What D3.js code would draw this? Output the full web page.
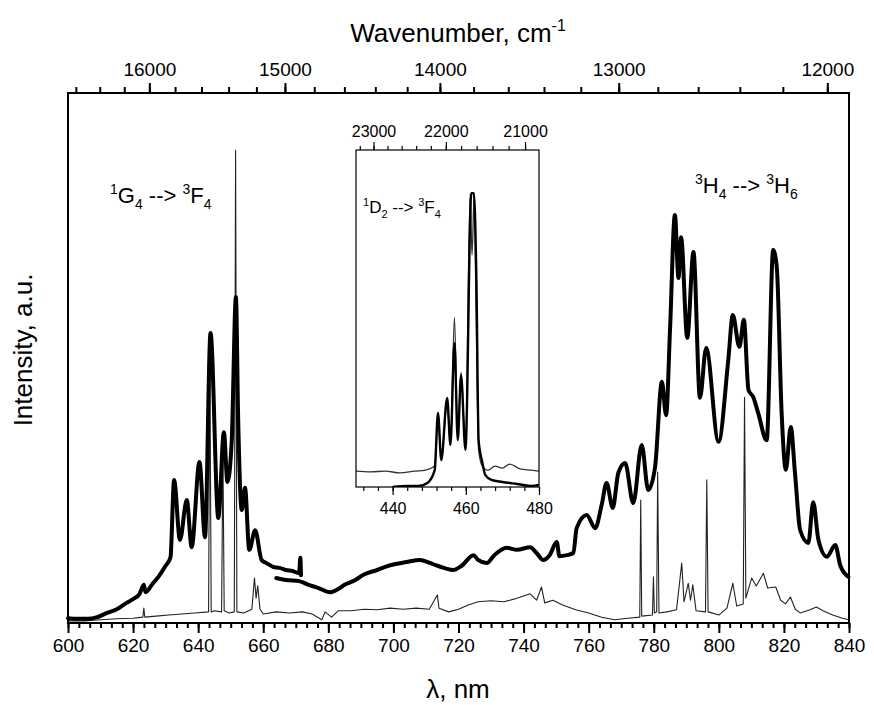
<!DOCTYPE html>
<html>
<head>
<meta charset="utf-8">
<script src="https://cdn.jsdelivr.net/npm/d3@7"></script>
<style>
  body { margin: 0; background: #fff; }
  svg text { font-family: "Liberation Sans", Arial, sans-serif; fill: #000; }
</style>
</head>
<body>
<svg id="chart" width="874" height="705"></svg>
<script>
// ---- axis ticks ----
const lambdaTicks = [600, 620, 640, 660, 680, 700, 720, 740, 760, 780, 800, 820, 840];
const wavenumberTicks = [16000, 15000, 14000, 13000, 12000];
const insetLambdaTicks = [440, 460, 480];
const insetWavenumberTicks = [23000, 22000, 21000];

// ---- main spectra: [wavelength nm, intensity a.u.] ----
// broad emission, first scan segment
const thickA = [
  [600,0.9],[603,0.8],[606,0.8],[609,1.1],[612,1.9],[615,2.6],[618,3.8],[620,4.5],[622,5.5],
  [623.3,7.2],[623.8,5.8],[626,7.4],[628,8.9],[630,10.8],[631.5,12.4],[632.6,27.0],[634.4,15.7],
  [636.5,23.2],[638,14.3],[640.4,30.4],[642.1,16.2],[643.8,54.7],[646.2,19.8],[647.9,36.0],
  [649,26.6],[650.3,34.2],[651.6,61.5],[652.3,38.3],[653.4,21.3],[654.4,25.5],[655.7,13.8],
  [657.5,17.5],[659.5,11.9],[661,11.3],[663,10.6],[665,10.4],[667,10.0],[669,9.8],[671,9.4],
  [671.4,12.3],[671.6,9.0]
];
// broad emission, second scan segment
const thickB = [
  [664,8.5],[667,8.1],[671,7.9],[674,7.2],[677,6.6],[680.5,5.8],[683,6.4],[685,7.2],[688,8.0],
  [690.8,9.1],[695,10.0],[699,10.9],[704,11.5],[708.2,11.9],[711,11.4],[713,10.9],[716,10.3],
  [718.4,10.0],[721,10.8],[724.6,12.8],[726,11.9],[728.7,11.3],[731,12.8],[734.8,14.2],
  [738,13.8],[742,14.3],[744,13.2],[746,11.9],[748,12.8],[750.2,15.3],[751,12.6],[753.3,12.8],
  [755.3,13.2],[756.3,17.9],[759.4,20.4],[762,17.9],[764,22.3],[765.5,26.4],[767.4,21.7],
  [769.1,28.3],[771.2,30.2],[773.7,22.6],[776.3,33.6],[778.3,25.1],[780.4,29.4],[782.5,45.5],
  [783.8,39.2],[785,55.3],[786.5,77.0],[787.6,65.1],[788.4,72.8],[790.3,53.8],[792.2,70.0],
  [794.2,42.5],[796.1,51.9],[799.9,34.2],[802.9,49.6],[804.3,58.1],[806.3,52.1],[807.7,57.2],
  [809.1,44.0],[810.6,42.6],[812.1,39.6],[814.7,34.5],[816.7,70.4],[817.8,67.2],[819.3,39.6],
  [820.6,28.9],[822.1,37.0],[823.4,28.3],[825,17.5],[827.5,15.1],[829,22.8],[830.6,15.7],
  [833.2,12.5],[835.8,14.7],[837.3,10.9],[839.8,8.7]
];
// narrow-line spectrum
const thin = [
  [600,0.4],[605,0.4],[610,0.6],[615,0.8],[620,0.9],[623,1.1],[623.3,2.8],[623.6,1.1],[627,1.3],
  [631,1.5],[635,1.7],[639,1.9],[643.2,2.1],[643.6,52.5],[644.0,2.1],[645,2.3],[647.2,2.1],
  [647.6,32.6],[648.0,2.3],[649.5,1.9],[651.1,2.1],[651.5,89.2],[651.9,2.1],[654,1.9],
  [656.5,2.6],[657.3,8.5],[657.8,4.7],[658.3,7.0],[659,2.6],[660,1.7],[664,2.1],[668,1.9],
  [672,2.1],[675,1.7],[678,0.6],[679,2.1],[681,1.1],[683,2.3],[687,2.3],[691,2.6],[695,2.5],
  [699,2.8],[703,2.6],[707,2.8],[711,2.6],[713.5,5.3],[714,2.8],[717,2.1],[720,2.6],[723,3.4],
  [726,4.0],[730,4.2],[734,4.0],[737,4.5],[740,5.1],[742,5.5],[744,4.3],[745.5,6.8],[746.5,3.8],
  [749,4.3],[752,3.4],[756,2.5],[760,1.9],[764,1.1],[768,0.6],[772,0.9],[775.7,1.1],[776.0,23.2],
  [776.3,1.3],[779.6,1.5],[779.9,8.7],[780.2,1.9],[780.9,2.1],[781.2,28.5],[781.6,1.9],[784,2.1],
  [787,2.5],[788.6,11.3],[789.3,4.0],[790.6,7.5],[791.3,4.3],[792.0,7.2],[793,2.3],[795.9,2.1],
  [796.3,27.0],[796.7,2.1],[800,1.5],[802.5,2.8],[804.3,7.5],[805.5,3.2],[807.5,3.6],[807.9,42.6],
  [808.3,4.7],[810.1,8.5],[811.5,7.0],[813.7,9.4],[815,6.6],[817.5,6.8],[819,4.3],[820.5,3.6],
  [822,4.9],[823.5,2.6],[825,1.9],[828,2.5],[830,3.0],[832,2.3],[835,1.5],[838,0.9],[840,0.6]
];

// ---- inset spectra (1D2 -> 3F4 region) ----
const insetThin = [
  [430,4.7],[434,4.5],[438,4.7],[442,4.2],[446,4.7],[449,5.0],[451.5,6.2],[452.4,20.5],
  [453.3,8.6],[454.9,24.9],[455.8,12.5],[456.9,50.4],[457.8,14.5],[458.7,34.1],[459.9,11.6],
  [461.2,87.2],[461.7,68.8],[462.3,87.2],[462.8,52.5],[463.5,11.0],[464.5,6.2],[466,5.0],
  [468,6.2],[470,5.6],[472,6.8],[475,5.3],[478,5.0],[480,4.7]
];
const insetThick = [
  [440,0.0],[444,0.3],[447,0.3],[449.5,1.2],[451.5,5.0],[452.4,22.0],[453.3,8.0],[454.9,26.4],
  [455.8,12.5],[456.9,42.7],[457.8,13.9],[458.7,33.2],[459.9,11.0],[461.5,87.2],[462.2,87.2],
  [462.9,61.4],[463.5,13.9],[464.5,7.4],[465.3,3.6],[467,2.1],[470,1.5],[474,0.9],[478,0.3],
  [480,0.6]
];

const svg = d3.select("#chart");

// ---- main panel ----
const M = { left: 68, right: 849, top: 93, bottom: 623 };
const x = d3.scaleLinear().domain([600, 840]).range([M.left, M.right]);
const y = d3.scaleLinear().domain([0, 100]).range([M.bottom, M.top]);

function minorSteps(a, b, step) {
  const out = [];
  for (let v = a; v <= b + 1e-9; v += step) out.push(+v.toFixed(4));
  return out;
}

function styleAxis(g, width) {
  g.select(".domain").remove();
  g.selectAll(".tick line").attr("stroke", "#000").attr("stroke-width", width);
}

// bottom wavelength axis
const gx = svg.append("g").attr("transform", `translate(0,${M.bottom})`);
gx.call(d3.axisBottom(x).tickValues(minorSteps(600, 840, 20 / 6)).tickSize(5).tickFormat(""));
styleAxis(gx, 2);
const gx2 = svg.append("g").attr("transform", `translate(0,${M.bottom})`);
gx2.call(d3.axisBottom(x).tickValues(lambdaTicks).tickSize(10).tickPadding(6).tickFormat(d3.format("d")));
styleAxis(gx2, 2);
gx2.selectAll("text").attr("font-size", 19);

// top wavenumber axis (nonlinear, positioned via wavelength scale)
const wnMinor = d3.range(16600, 11999, -200);
const gt = svg.append("g").attr("transform", `translate(0,${M.top})`);
gt.call(d3.axisTop(x).tickValues(wnMinor.map(w => 1e7 / w)).tickSize(6).tickFormat(""));
styleAxis(gt, 2);
const gt2 = svg.append("g").attr("transform", `translate(0,${M.top})`);
gt2.call(d3.axisTop(x).tickValues(wavenumberTicks.map(w => 1e7 / w)).tickSize(10).tickPadding(7)
  .tickFormat(l => Math.round(1e7 / l / 100) * 100));
styleAxis(gt2, 2);
gt2.selectAll("text").attr("font-size", 19);

// spectra
const line = d3.line().x(d => x(d[0])).y(d => y(d[1]));
const smooth = d3.line().x(d => x(d[0])).y(d => y(d[1])).curve(d3.curveMonotoneX);
svg.append("path").datum(thin).attr("d", line)
  .attr("fill", "none").attr("stroke", "#222").attr("stroke-width", 1.1).attr("stroke-linejoin", "round");
[thickA, thickB].forEach(seg => {
  svg.append("path").datum(seg).attr("d", smooth)
    .attr("fill", "none").attr("stroke", "#000").attr("stroke-width", 4)
    .attr("stroke-linejoin", "round").attr("stroke-linecap", "round");
});

// frame
svg.append("rect").attr("x", M.left).attr("y", M.top)
  .attr("width", M.right - M.left).attr("height", M.bottom - M.top)
  .attr("fill", "none").attr("stroke", "#000").attr("stroke-width", 2);

// ---- inset panel ----
const I = { left: 356, right: 539, top: 150, bottom: 487 };
const xi = d3.scaleLinear().domain([430, 480]).range([I.left, I.right]);
const yi = d3.scaleLinear().domain([0, 100]).range([I.bottom, I.top]);

svg.append("rect").attr("x", I.left).attr("y", I.top)
  .attr("width", I.right - I.left).attr("height", I.bottom - I.top).attr("fill", "#fff");

svg.append("clipPath").attr("id", "insetClip").append("rect")
  .attr("x", I.left).attr("y", I.top).attr("width", I.right - I.left).attr("height", I.bottom - I.top);

const gi = svg.append("g").attr("transform", `translate(0,${I.bottom})`);
gi.call(d3.axisBottom(xi).tickValues(minorSteps(432, 480, 4)).tickSize(4).tickFormat(""));
styleAxis(gi, 1.2);
const gi2 = svg.append("g").attr("transform", `translate(0,${I.bottom})`);
gi2.call(d3.axisBottom(xi).tickValues(insetLambdaTicks).tickSize(8).tickPadding(8).tickFormat(d3.format("d")));
styleAxis(gi2, 1.2);
gi2.selectAll("text").attr("font-size", 16);

const wnInsetMinor = d3.range(23200, 20833, -200);
const git = svg.append("g").attr("transform", `translate(0,${I.top})`);
git.call(d3.axisTop(xi).tickValues(wnInsetMinor.map(w => 1e7 / w)).tickSize(4).tickFormat(""));
styleAxis(git, 1.2);
const git2 = svg.append("g").attr("transform", `translate(0,${I.top})`);
git2.call(d3.axisTop(xi).tickValues(insetWavenumberTicks.map(w => 1e7 / w)).tickSize(8).tickPadding(5)
  .tickFormat(l => Math.round(1e7 / l / 100) * 100));
styleAxis(git2, 1.2);
git2.selectAll("text").attr("font-size", 16);

const lineI = d3.line().x(d => xi(d[0])).y(d => yi(d[1])).curve(d3.curveMonotoneX);
const insetLines = svg.append("g").attr("clip-path", "url(#insetClip)");
insetLines.append("path").datum(insetThin).attr("d", lineI)
  .attr("fill", "none").attr("stroke", "#333").attr("stroke-width", 1.3).attr("stroke-linejoin", "round");
insetLines.append("path").datum(insetThick).attr("d", lineI)
  .attr("fill", "none").attr("stroke", "#000").attr("stroke-width", 2.4).attr("stroke-linejoin", "round");

svg.append("rect").attr("x", I.left).attr("y", I.top)
  .attr("width", I.right - I.left).attr("height", I.bottom - I.top)
  .attr("fill", "none").attr("stroke", "#000").attr("stroke-width", 1.2);

// ---- text with super/subscripts ----
function richText(xPos, yPos, size, parts, anchor) {
  const t = svg.append("text").attr("x", xPos).attr("y", yPos)
    .attr("font-size", size).attr("text-anchor", anchor || "start");
  const small = Math.round(size * 0.62);
  let shift = 0;
  parts.forEach(([s, kind]) => {
    const target = kind === "sup" ? -size * 0.42 : kind === "sub" ? size * 0.28 : 0;
    t.append("tspan").attr("dy", target - shift)
      .attr("font-size", kind ? small : size).text(s);
    shift = target;
  });
  return t;
}

richText(458, 42, 26, [["Wavenumber, cm"], ["-1", "sup"]], "middle");
svg.append("text").attr("x", 458).attr("y", 698).attr("text-anchor", "middle")
  .attr("font-size", 26).text("λ, nm");
svg.append("text").attr("transform", "translate(32,350) rotate(-90)")
  .attr("text-anchor", "middle").attr("font-size", 26).text("Intensity, a.u.");

richText(110, 203, 22, [["1", "sup"], ["G"], ["4", "sub"], [" --> "], ["3", "sup"], ["F"], ["4", "sub"]]);
richText(695, 193, 22, [["3", "sup"], ["H"], ["4", "sub"], [" --> "], ["3", "sup"], ["H"], ["6", "sub"]]);
richText(363, 213, 17, [["1", "sup"], ["D"], ["2", "sub"], [" --> "], ["3", "sup"], ["F"], ["4", "sub"]]);
</script>
</body>
</html>
